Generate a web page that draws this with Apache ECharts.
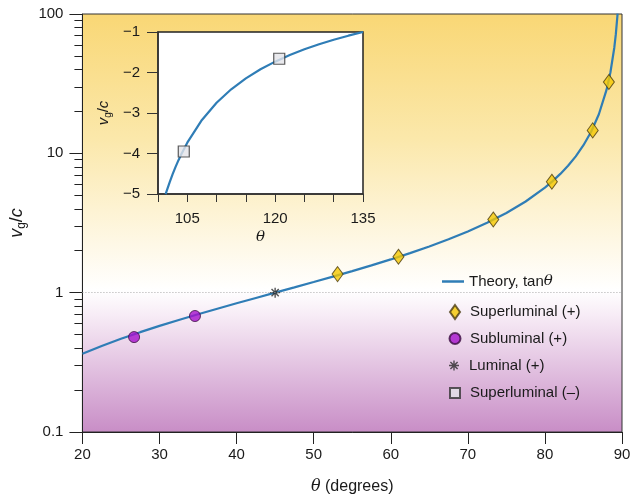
<!DOCTYPE html>
<html>
<head>
<meta charset="utf-8">
<script src="https://cdn.jsdelivr.net/npm/echarts@6/dist/echarts.min.js"></script>
<style>
  html, body { margin: 0; padding: 0; background: #fff; }
  #chart { width: 634px; height: 500px; }
</style>
</head>
<body>
<div id="chart"></div>
<script>
// theory curve, tan(theta), main panel (degrees, vg/c)
var theoryAngles = [20, 22.5, 25, 27.5, 30, 32.5, 35, 37.5, 40, 42.5, 45, 47.5, 50, 52.5, 55, 57.5, 60, 62.5, 65, 67.5, 70, 72.5, 75, 77.5, 80, 81, 82, 83, 84, 85, 86, 87, 88, 88.5, 89, 89.2, 89.43];
var theoryValues = [0.364, 0.4142, 0.4663, 0.5206, 0.5774, 0.6371, 0.7002, 0.7673, 0.8391, 0.9163, 1, 1.0913, 1.1918, 1.3032, 1.4281, 1.5697, 1.7321, 1.921, 2.1445, 2.4142, 2.7475, 3.1716, 3.7321, 4.5107, 5.6713, 6.3138, 7.1154, 8.1443, 9.5144, 11.43, 14.301, 19.081, 28.636, 38.188, 57.29, 71.615, 100.5];

// theory curve in the inset
var insetAngles = [101.3, 101.5, 102, 102.5, 103, 103.5, 104, 105, 107.5, 110, 112.5, 115, 117.5, 120, 122.5, 125, 127.5, 130, 132.5, 135];
var insetValues = [-5.005, -4.915, -4.705, -4.511, -4.331, -4.165, -4.011, -3.732, -3.172, -2.747, -2.414, -2.145, -1.921, -1.732, -1.57, -1.428, -1.303, -1.192, -1.091, -1.0];

// measured points
var superAngles = [53.1, 61.0, 73.3, 80.9, 86.2, 88.3];
var superValues = [1.36, 1.81, 3.35, 6.25, 14.6, 32.5];
var subAngles = [26.7, 34.6];
var subValues = [0.48, 0.68];
var lumAngles = [45];
var lumValues = [1];
var superNegAngles = [104.4, 120.7];
var superNegValues = [-3.95, -1.66];

var yMajorTicks = [0.1, 1, 10, 100];
var yMinorTicks = [0.2, 0.3, 0.4, 0.5, 0.6, 0.7, 0.8, 0.9, 2, 3, 4, 5, 6, 7, 8, 9, 20, 30, 40, 50, 60, 70, 80, 90];
var insetXLabels = [105, 120, 135];

function pairs(xs, ys) {
  return xs.map(function (x, i) { return [x, ys[i]]; });
}

var FONT = '"Liberation Sans", Arial, Helvetica, sans-serif';
var SERIF = '"DejaVu Serif", "Liberation Serif", serif';
var asterisk = 'path://M-5,-0.7L5,-0.7L5,0.7L-5,0.7Z M-0.7,-5L0.7,-5L0.7,5L-0.7,5Z M-3.1,-4.1L4.1,3.1L3.1,4.1L-4.1,-3.1Z M-4.1,3.1L3.1,-4.1L4.1,-3.1L-3.1,4.1Z';

// one legend per entry so each icon can keep its own size
function legendEntry(name, icon, w, h, left, centerY) {
  return {
    orient: 'vertical', left: left, top: centerY - 9,
    icon: icon, itemWidth: w, itemHeight: h,
    textStyle: {
      fontFamily: FONT, fontSize: 15, color: '#1a1a1a', lineHeight: 18,
      padding: [0, 0, 0, Math.max(0, 459 - left - w)],
      rich: {
        t: { fontFamily: FONT, fontSize: 15, color: '#1a1a1a', lineHeight: 18 },
        i: { fontFamily: SERIF, fontStyle: 'italic', fontSize: 15, color: '#1a1a1a', lineHeight: 18 }
      }
    },
    formatter: function (n) {
      if (n === 'Theory, tanθ') return '{t|Theory, tan}{i|θ}';
      return n;
    },
    selectedMode: false,
    data: [name]
  };
}

var dom = document.getElementById('chart');
var myChart = echarts.init(dom, null, { renderer: 'canvas' });

var option = {
  animation: false,
  textStyle: { fontFamily: FONT, color: '#1a1a1a' },
  grid: [
    {
      left: 81, right: 12, top: 14, bottom: 67,
      show: true,
      borderColor: '#333', borderWidth: 1,
      backgroundColor: {
        type: 'linear', x: 0, y: 0, x2: 0, y2: 1,
        colorStops: [
          { offset: 0, color: '#f9d775' },
          { offset: 0.3, color: '#fbe8ab' },
          { offset: 0.55, color: '#fef8e6' },
          { offset: 0.66, color: '#ffffff' },
          { offset: 0.72, color: '#f7ecf6' },
          { offset: 1, color: '#c88dc6' }
        ]
      }
    },
    {
      left: 158, top: 32, width: 205, height: 162,
      show: true,
      borderColor: '#222', borderWidth: 1.5,
      backgroundColor: '#ffffff'
    }
  ],
  legend: [
    legendEntry('Theory, tanθ', 'rect', 22, 2.5, 437, 276.5),
    legendEntry('Superluminal (+)', 'diamond', 10, 14, 444, 307),
    legendEntry('Subluminal (+)', 'circle', 11, 11, 443.5, 333.5),
    legendEntry('Luminal (+)', asterisk, 10, 10, 444, 360.5),
    legendEntry('Superluminal (–)', 'rect', 10, 10, 444, 388)
  ],
  xAxis: [
    {
      gridIndex: 0, type: 'value', min: 20, max: 90, interval: 10,
      name: '{i|θ}{t| (degrees)}', nameLocation: 'middle', nameGap: 47,
      nameTextStyle: {
        rich: {
          i: { fontFamily: SERIF, fontStyle: 'italic', fontSize: 16, color: '#1a1a1a' },
          t: { fontFamily: FONT, fontSize: 16, color: '#1a1a1a' }
        }
      },
      axisLine: { onZero: false, lineStyle: { color: '#222', width: 1 } },
      axisTick: { inside: false, length: 12, lineStyle: { color: '#222' } },
      axisLabel: { fontSize: 15, color: '#1a1a1a', margin: 15 },
      splitLine: { show: false }
    },
    {
      gridIndex: 1, type: 'value', min: 100, max: 135, interval: 5,
      name: 'θ', nameLocation: 'middle', nameGap: 36,
      nameTextStyle: { fontFamily: SERIF, fontStyle: 'italic', fontSize: 15, color: '#1a1a1a' },
      axisLine: { onZero: false, lineStyle: { color: '#333', width: 1.5 } },
      axisTick: { inside: false, length: 8, lineStyle: { color: '#333' } },
      axisLabel: { fontSize: 15, color: '#1a1a1a', margin: 17, customValues: insetXLabels },
      splitLine: { show: false }
    }
  ],
  yAxis: [
    {
      gridIndex: 0, type: 'log', logBase: 10, min: 0.1, max: 100, position: 'left',
      name: '{i|v}{s|g}{t|/}{i|c}', nameLocation: 'middle', nameGap: 44, nameRotate: 90,
      nameTextStyle: {
        rich: {
          i: { fontFamily: FONT, fontStyle: 'italic', fontSize: 18, color: '#1a1a1a' },
          t: { fontFamily: FONT, fontSize: 18, color: '#1a1a1a' },
          s: { fontFamily: FONT, fontSize: 12, color: '#1a1a1a', padding: [9, 0, 0, 0] }
        }
      },
      axisLine: { lineStyle: { color: '#222', width: 1 } },
      axisTick: { inside: false, length: 13, lineStyle: { color: '#222' }, customValues: yMajorTicks },
      axisLabel: { fontSize: 15, color: '#1a1a1a', margin: 19, customValues: yMajorTicks,
        formatter: function (v) { return v < 1 ? '0.1' : String(Math.round(v)); } },
      splitLine: { show: false }
    },
    {
      gridIndex: 0, type: 'log', logBase: 10, min: 0.1, max: 100, position: 'left',
      axisLine: { show: false },
      axisTick: { inside: false, length: 8, lineStyle: { color: '#222' }, customValues: yMinorTicks },
      axisLabel: { show: false },
      splitLine: { show: false }
    },
    {
      gridIndex: 1, type: 'value', min: -5, max: -1, interval: 1,
      name: '{i|v}{s|g}{t|/}{i|c}', nameLocation: 'middle', nameGap: 45, nameRotate: 90,
      nameTextStyle: {
        rich: {
          i: { fontFamily: FONT, fontStyle: 'italic', fontSize: 15, color: '#1a1a1a' },
          t: { fontFamily: FONT, fontSize: 15, color: '#1a1a1a' },
          s: { fontFamily: FONT, fontSize: 10, color: '#1a1a1a', padding: [8, 0, 0, 0] }
        }
      },
      axisLine: { onZero: false, lineStyle: { color: '#333', width: 1.5 } },
      axisTick: { inside: false, length: 11, lineStyle: { color: '#333' } },
      axisLabel: { fontSize: 15, color: '#1a1a1a', margin: 18,
        formatter: function (v) { return String(v).replace('-', '\u2212'); } },
      splitLine: { show: false }
    }
  ],
  series: [
    {
      name: 'Theory, tanθ', type: 'line', xAxisIndex: 0, yAxisIndex: 0,
      data: pairs(theoryAngles, theoryValues),
      symbol: 'none', smooth: false, clip: true,
      lineStyle: { color: '#2f7db6', width: 2.2 },
      itemStyle: { color: '#2f7db6' },
      markLine: {
        silent: true, symbol: 'none', label: { show: false },
        lineStyle: { color: '#aaa', type: [1, 2], width: 1 },
        data: [{ yAxis: 1 }]
      },
      z: 2
    },
    {
      name: 'Theory, tanθ', type: 'line', xAxisIndex: 1, yAxisIndex: 2,
      data: pairs(insetAngles, insetValues),
      symbol: 'none', smooth: false, clip: true,
      lineStyle: { color: '#2f7db6', width: 2.2 },
      itemStyle: { color: '#2f7db6' },
      z: 2
    },
    {
      name: 'Superluminal (+)', type: 'scatter', xAxisIndex: 0, yAxisIndex: 0,
      data: pairs(superAngles, superValues),
      symbol: 'diamond', symbolSize: [11, 15],
      itemStyle: { color: '#f5c800', borderColor: '#4a3b10', borderWidth: 1 },
      z: 3
    },
    {
      name: 'Subluminal (+)', type: 'scatter', xAxisIndex: 0, yAxisIndex: 0,
      data: pairs(subAngles, subValues),
      symbol: 'circle', symbolSize: 11,
      itemStyle: { color: '#a510cc', borderColor: '#3a0d40', borderWidth: 1 },
      z: 3
    },
    {
      name: 'Luminal (+)', type: 'scatter', xAxisIndex: 0, yAxisIndex: 0,
      data: pairs(lumAngles, lumValues),
      symbol: asterisk, symbolSize: 10,
      itemStyle: { color: '#2a2a2a' },
      z: 3
    },
    {
      name: 'Superluminal (–)', type: 'scatter', xAxisIndex: 1, yAxisIndex: 2,
      data: pairs(superNegAngles, superNegValues),
      symbol: 'rect', symbolSize: 11,
      itemStyle: { color: '#e4e4e8', borderColor: '#333', borderWidth: 1.2 },
      z: 3
    }
  ]
};

myChart.setOption(option);
</script>
</body>
</html>
